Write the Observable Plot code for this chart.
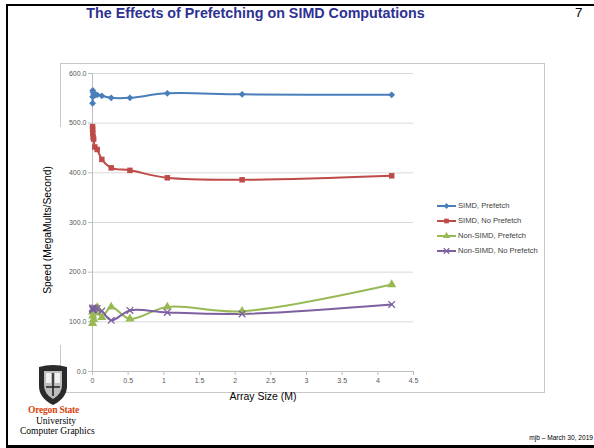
<!DOCTYPE html>
<html><head><meta charset="utf-8">
<script src="https://cdn.jsdelivr.net/npm/d3@7"></script>
<script src="https://cdn.jsdelivr.net/npm/@observablehq/plot@0.6"></script>
<style>
body{margin:0;background:#fff;}
#slide{position:relative;width:594px;height:448px;overflow:hidden;font-family:"Liberation Sans",Arial,sans-serif;background:#fff;}
.abs{position:absolute;}
#frame{left:6px;top:4px;width:600px;height:439px;border-top:2px solid #000;border-left:2px solid #000;border-bottom:3px solid #000;}
#chartbox{left:60px;top:63px;width:483px;height:328px;border:1px solid #c8c8c8;}
#title{left:0;width:511px;top:5px;text-align:center;font-weight:bold;font-size:14.3px;color:#2e3192;}
#pagenum{left:575px;top:5px;font-size:13.5px;color:#000;}
#footer{right:1px;top:434px;font-size:6.6px;color:#000;}
#ytitle{left:47px;top:230px;width:0;height:0;}
#ytitle span{position:absolute;white-space:nowrap;transform:translate(-50%,-50%) rotate(-90deg);font-size:10.3px;color:#000;background:#fff;}
#ycover{left:40px;top:127px;width:22px;height:218px;background:#fff;}
#xtitle{left:263px;top:396px;width:0;height:0;}
#xtitle span{position:absolute;white-space:nowrap;transform:translate(-50%,-50%);font-size:10.5px;color:#000;}
#legend{left:436px;top:198px;font-size:7.6px;color:#404040;}
#legend div{height:15px;display:flex;align-items:center;}
#osu1{left:28px;top:405px;font-family:"Liberation Serif","DejaVu Serif",serif;font-weight:bold;font-size:9.5px;color:#d73f09;letter-spacing:-0.2px;}
#osu2{left:36px;top:416px;font-family:"Liberation Serif","DejaVu Serif",serif;font-size:9.5px;color:#000;}
#osu3{left:20px;top:426px;font-family:"Liberation Serif","DejaVu Serif",serif;font-size:9.5px;color:#000;}
#plot{left:0;top:0;}
</style></head><body>
<div id="slide">
  <div id="frame" class="abs"></div>
  <div id="chartbox" class="abs"></div>
  <div id="plot" class="abs"></div>
  <div id="ycover" class="abs"></div>
  <div id="ytitle" class="abs"><span>Speed (MegaMults/Second)</span></div>
  <div id="xtitle" class="abs"><span>Array Size (M)</span></div>
  <div id="legend" class="abs"></div>
  <div id="title" class="abs">The Effects of Prefetching on SIMD Computations</div>
  <div id="pagenum" class="abs">7</div>
  <div id="footer" class="abs">mjb – March 30, 2019</div>
  <svg class="abs" style="left:36px;top:363px" width="34" height="44">
    <path d="M3,4 Q17,0 31,4 L31,23 Q31,35 17,42 Q3,35 3,23 Z" fill="#2a2a2a"/>
    <path d="M8,8 L26,8 L26,22 Q26,31 17,36 Q8,31 8,22 Z" fill="#bdbdbd"/>
    <path d="M10,10 L15,10 L15,20 L10,20 Z M19,10 L24,10 L24,20 L19,20 Z" fill="#f0f0f0"/>
    <path d="M17,10 L17,33 M10,24 L24,24" stroke="#222" stroke-width="1.6"/>
  </svg>
  <div id="osu1" class="abs">Oregon State</div>
  <div id="osu2" class="abs">University</div>
  <div id="osu3" class="abs">Computer Graphics</div>
</div>
<script>
// Array sizes in millions of elements (1K .. 4M)
const sizesM = [0.001024,0.002048,0.004096,0.008192,0.016384,0.032768,0.065536,0.131072,0.262144,0.524288,1.048576,2.097152,4.194304];
const seriesNames = ["SIMD, Prefetch","SIMD, No Prefetch","Non-SIMD, Prefetch","Non-SIMD, No Prefetch"];
const simdPrefetch     = [540,553,566,562,558,556,557,555,551,551,560,558,557];
const simdNoPrefetch   = [493,487,480,472,468,452,447,427,410,405,390,386,394];
const nonSimdPrefetch  = [120,97,112,125,105,118,129,109,130,106,130,121,175];
const nonSimdNoPrefetch= [126,128,124,127,125,128,127,122,103,123,119,116,135];
const yTicks = [0,100,200,300,400,500,600];
const xTicks = [0,0.5,1,1.5,2,2.5,3,3.5,4,4.5];

const colors = ["#4A7EBB","#BE4B48","#98B954","#7D60A0"];
const symbols = ["diamond2","square","triangle","times"];
const seriesValues = [simdPrefetch, simdNoPrefetch, nonSimdPrefetch, nonSimdNoPrefetch];

const rows = [];
seriesNames.forEach((s, i) => sizesM.forEach((x, j) => rows.push({series: s, x, y: seriesValues[i][j]})));

const dotMarks = seriesNames.map((s, i) => {
  const data = rows.filter(d => d.series === s);
  const opts = {x: "x", y: "y", symbol: () => symbols[i], r: i === 2 ? 3.4 : 3.1};
  if (symbols[i] === "times") { opts.stroke = colors[i]; opts.strokeWidth = 1.3; opts.fill = "none"; }
  else { opts.fill = colors[i]; opts.stroke = "none"; }
  return Plot.dot(data, opts);
});

const chart = Plot.plot({
  width: 594, height: 448,
  marginLeft: 92, marginRight: 181, marginTop: 73, marginBottom: 77,
  style: {background: "transparent", fontSize: "7px", fontFamily: "'Liberation Sans', Arial, sans-serif"},
  x: {domain: [0, 4.5]},
  y: {domain: [0, 600]},
  symbol: {type: "identity"},
  color: {domain: seriesNames, range: colors},
  marks: [
    Plot.gridY(yTicks.filter(d => d > 0), {stroke: "#d9d9d9", strokeOpacity: 1}),
    Plot.ruleX([0], {stroke: "#bfbfbf"}),
    Plot.ruleY([0], {stroke: "#bfbfbf"}),
    Plot.axisY({ticks: yTicks, tickFormat: d3.format(".1f"), tickSize: 4, tickPadding: 2, stroke: "#bfbfbf", fill: "#595959", label: null}),
    Plot.axisX({ticks: xTicks, tickFormat: d => String(d), tickSize: 4, tickPadding: 3, stroke: "#bfbfbf", fill: "#595959", label: null}),
    Plot.line(rows, {x: "x", y: "y", z: "series", stroke: "series", curve: "catmull-rom", strokeWidth: 2}),
    ...dotMarks
  ]
});
document.getElementById("plot").appendChild(chart);

// Legend
const leg = d3.select("#legend");
seriesNames.forEach((s, i) => {
  const row = leg.append("div");
  const sv = row.append("svg").attr("width", 21).attr("height", 8).style("margin-right", "1px");
  sv.append("line").attr("x1", 1).attr("x2", 20).attr("y1", 4).attr("y2", 4).attr("stroke", colors[i]).attr("stroke-width", 2);
  const sym = {diamond2: d3.symbolDiamond2, square: d3.symbolSquare, triangle: d3.symbolTriangle, times: d3.symbolTimes}[symbols[i]];
  const p = sv.append("path").attr("transform", "translate(10.5,4)").attr("d", d3.symbol(sym, 22)());
  if (symbols[i] === "times") p.attr("fill", "none").attr("stroke", colors[i]).attr("stroke-width", 1.2);
  else p.attr("fill", colors[i]);
  row.append("span").text(s);
});
</script>
</body></html>
